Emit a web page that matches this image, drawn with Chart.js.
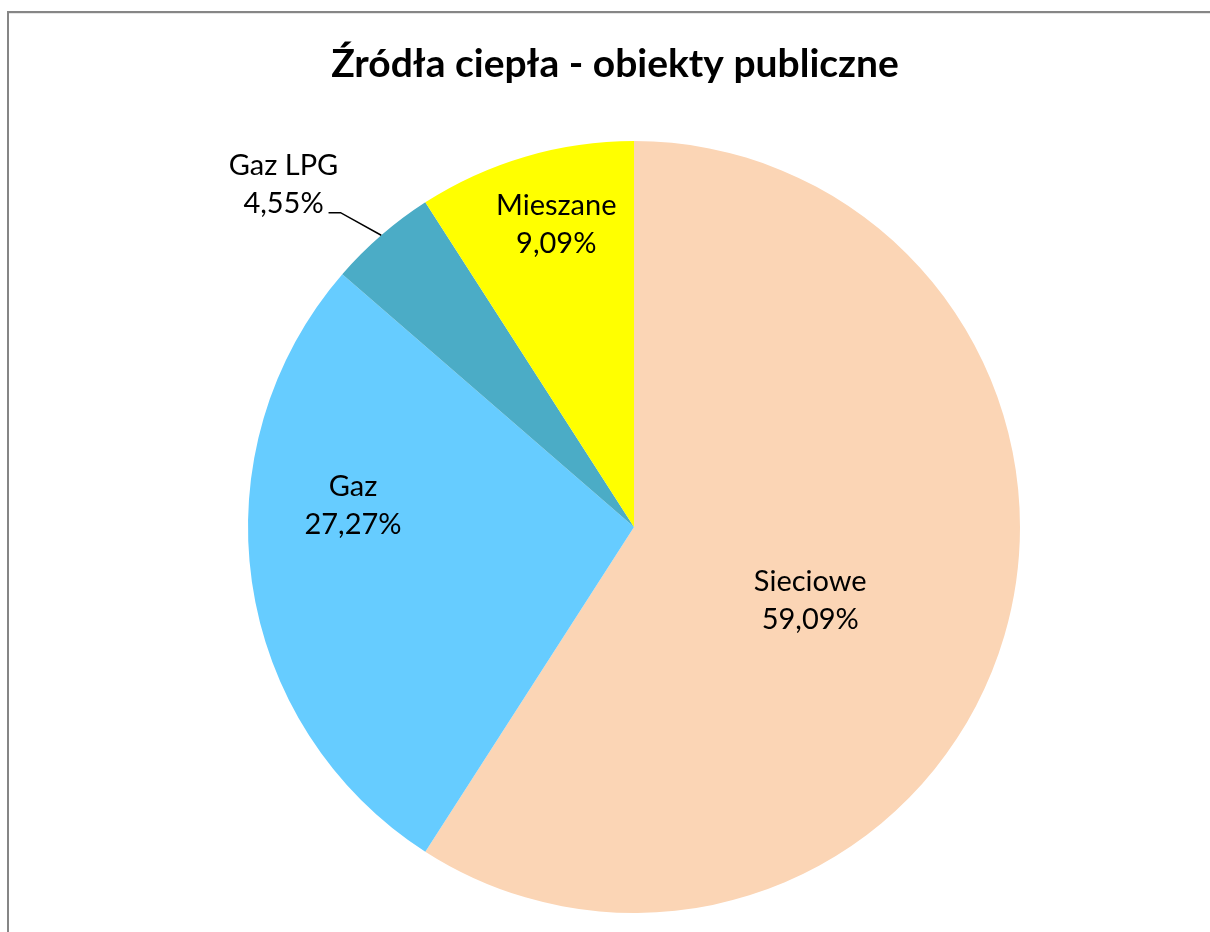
<!DOCTYPE html>
<html>
<head>
<meta charset="utf-8">
<title>Źródła ciepła - obiekty publiczne</title>
<script src="https://cdn.jsdelivr.net/npm/chart.js@4/dist/chart.umd.min.js"></script>
<style>
  html, body { margin: 0; padding: 0; background: #fff; overflow: hidden; }
  #wrap { position: relative; width: 1210px; height: 932px; }
  #frame {
    position: absolute; left: 7px; top: 11px; width: 1300px; height: 1000px;
    border-left: 2px solid #868686; border-top: 2px solid #868686;
    box-shadow: inset 0 1px 0 #e6e6e6;
  }
  canvas { position: absolute; left: 0; top: 0; }
</style>
</head>
<body>
<div id="wrap">
  <div id="frame"></div>
  <canvas id="pie" width="1210" height="932"></canvas>
</div>
<script>
// dane: liczba obiektów wg źródła ciepła (razem 22)
const categories = ["Sieciowe", "Gaz", "Gaz LPG", "Mieszane"]
const counts = [13, 6, 1, 2]
const sliceColors = ["#FBD5B5", "#66CCFF", "#4BACC6", "#FFFF00"]

// gdzie stoi etykieta: ułamek promienia i ułamek kąta wycinka
const labelRadius = [0.495, 0.73, 1.114, 0.81]
const labelAlong = [0.53, 0.627, 0.37, 0.56]
const outsideLabel = [false, false, true, false]

const total = counts.reduce((a, b) => a + b, 0)
const pct = (v) => (v / total * 100).toFixed(2).replace(".", ",") + "%"

const FONT = "Lato, 'Open Sans', sans-serif"

// rysuje tytuł i etykiety danych
const labelsPlugin = {
  id: "pieLabels",
  afterDatasetsDraw(chart) {
    const ctx = chart.ctx
    const meta = chart.getDatasetMeta(0)
    ctx.save()
    ctx.fillStyle = "#000"
    ctx.textAlign = "center"
    ctx.textBaseline = "middle"
    ctx.font = "29px " + FONT
    const lineH = 38

    meta.data.forEach((arc, i) => {
      const p = arc.getProps(["x", "y", "startAngle", "endAngle", "outerRadius"], true)
      const a = p.startAngle + labelAlong[i] * (p.endAngle - p.startAngle)
      const r = labelRadius[i] * p.outerRadius
      let cx = p.x + Math.cos(a) * r
      let cy = p.y + Math.sin(a) * r

      if (outsideLabel[i]) {
        // linia odniesienia od krawędzi wycinka
        const mid = (p.startAngle + p.endAngle) / 2
        const ex = p.x + Math.cos(mid) * p.outerRadius
        const ey = p.y + Math.sin(mid) * p.outerRadius
        ctx.strokeStyle = "#000"
        ctx.lineWidth = 1.5
        ctx.beginPath()
        ctx.moveTo(ex, ey)
        ctx.lineTo(cx, cy)
        ctx.lineTo(cx - 12, cy)
        ctx.stroke()
        cx = cx - 57
        cy = cy - 28
      }

      ctx.fillText(categories[i], cx, cy - lineH / 2)
      ctx.fillText(pct(counts[i]), cx, cy + lineH / 2)
    })

    // tytuł
    ctx.font = "bold 39px " + FONT
    ctx.textBaseline = "alphabetic"
    ctx.fillText("Źródła ciepła - obiekty publiczne", 615, 77)
    ctx.restore()
  },
}

const ctx = document.getElementById("pie").getContext("2d")
new Chart(ctx, {
  type: "pie",
  data: {
    labels: categories,
    datasets: [
      {
        data: counts,
        backgroundColor: sliceColors,
        borderWidth: 0,
      },
    ],
  },
  options: {
    responsive: false,
    animation: false,
    layout: { padding: { top: 141, left: 248, right: 190, bottom: 19 } },
    plugins: {
      legend: { display: false },
      tooltip: { enabled: false },
      title: { display: false },
    },
  },
  plugins: [labelsPlugin],
})
</script>
</body>
</html>
